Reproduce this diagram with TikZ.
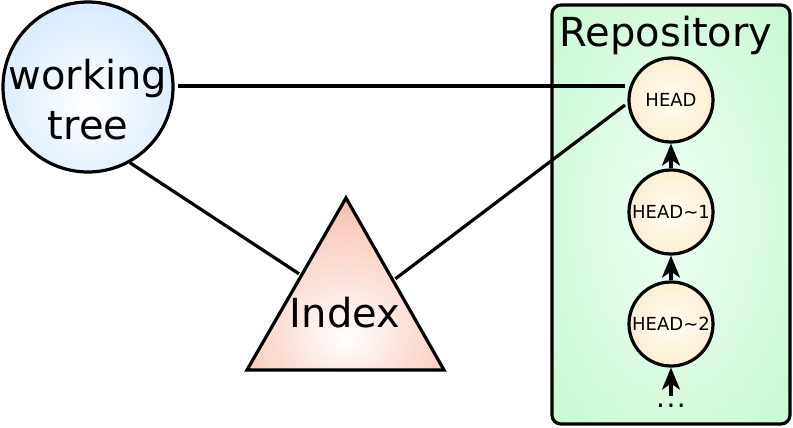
\documentclass[tikz,border=0pt]{standalone}
\usepackage{fontspec}
\setmainfont{DejaVu Sans}
\usetikzlibrary{arrows.meta,calc}
\definecolor{wtedge}{RGB}{188,221,250}
\definecolor{idxedge}{RGB}{246,172,150}
\definecolor{repoedge}{RGB}{186,246,196}
\definecolor{repocen}{RGB}{238,255,244}
\definecolor{commitedge}{RGB}{252,224,180}
\definecolor{commitcen}{RGB}{255,254,244}
\pgfdeclareradialshading{wtshade}{\pgfpoint{0bp}{-6bp}}{color(0bp)=(white); color(50bp)=(wtedge); color(80bp)=(wtedge)}
\pgfdeclareradialshading{commitshade}{\pgfpoint{0bp}{0bp}}{color(0bp)=(commitcen); color(50bp)=(commitedge); color(80bp)=(commitedge)}
\pgfdeclareradialshading{reposhade}{\pgfpoint{0bp}{0bp}}{color(0bp)=(repocen); color(50bp)=(repoedge); color(80bp)=(repoedge)}
\pgfdeclareradialshading{idxshade}{\pgfpoint{0bp}{-16bp}}{color(0bp)=(white); color(45bp)=(idxedge); color(90bp)=(idxedge)}
\tikzset{
  outline/.style={draw=black, line width=3.2pt},
  conn/.style={draw=black, line width=3.2pt},
  commit/.style={circle, outline, minimum size=84pt, inner sep=0pt,
    shading=commitshade, font=\fontsize{18}{20}\selectfont},
  parent/.style={draw=black, line width=3.2pt, -{Stealth[length=22pt,width=18pt,inset=6pt]}},
  bigtext/.style={font=\fontsize{40}{50}\selectfont, inner sep=0pt},
}
\begin{document}
\begin{tikzpicture}[x=1pt,y=-1pt]
\useasboundingbox (0,0) rectangle (793,428);
% repository box
\node[draw=black, line width=3.2pt, rounded corners=9pt, shading=reposhade,
  minimum width=238pt, minimum height=419pt, inner sep=0pt] (repo) at (671,214.5) {};
\node[bigtext] (repotitle) at (666,35) {Repository};
% commits
\node[commit] (head) at (671,100) {HEAD};
\node[commit] (head1) at (671,212) {HEAD\char"007E 1};
\node[commit] (head2) at (671,324) {HEAD\char"007E 2};
\node[font=\fontsize{28}{30}\selectfont, inner sep=0pt, anchor=base] (dots) at (671,407) {.\kern1.5pt.\kern1.5pt.};
\coordinate (dotstop) at (671,396);
\draw[parent] (head1) -- (head);
\draw[parent] (head2) -- (head1);
\draw[parent] (dotstop) -- (head2);
% working tree
\node[circle, outline, minimum size=170pt, inner sep=0pt, shading=wtshade] (wt) at (88,87) {};
\node[bigtext, align=center] (wtlabel) at (88,100) {working\\tree};
% index triangle
\coordinate (iapex) at (346,198);
\coordinate (ileft) at (247,370);
\coordinate (iright) at (444,370);
\path[outline, line join=miter, shading=idxshade] (iapex) -- (ileft) -- (iright) -- cycle;
\node[bigtext] (index) at (345,313) {Index};
\coordinate (ileftpt) at ($(iapex)!0.45!(ileft)$);
\coordinate (irightpt) at ($(iapex)!0.48!(iright)$);
% connectors
\coordinate (headin) at (625,86);
\coordinate (headin2) at (625,105);
\draw[conn, shorten <=3pt] (wt.east |- headin) -- (headin);
\draw[conn, shorten >=3pt] (wt.-61) -- (ileftpt);
\draw[conn, shorten <=3pt] (irightpt) -- (headin2);
\end{tikzpicture}
\end{document}
